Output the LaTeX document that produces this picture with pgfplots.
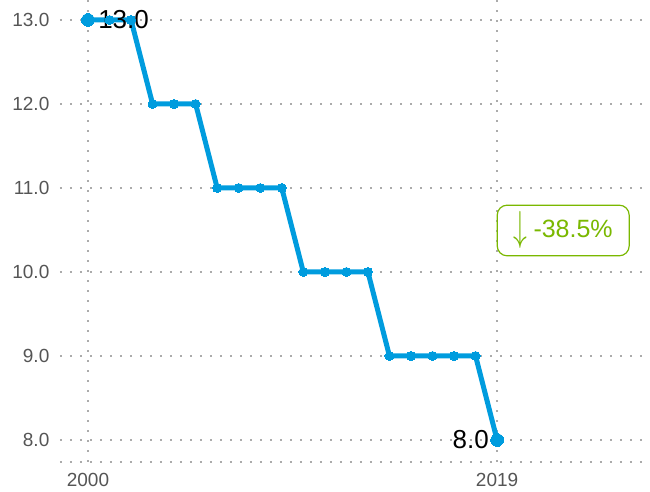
\documentclass[border=0pt]{standalone}
\usepackage{graphicx}
\usepackage{pgfplots}
\pgfplotsset{compat=1.18}
\usepackage{fontspec}
\setmainfont{Liberation Sans}
\definecolor{lineblue}{HTML}{009CDE}
\definecolor{anngreen}{HTML}{7AB800}
\definecolor{tickgray}{HTML}{555555}
\definecolor{gridgray}{HTML}{ABABAB}
\begin{document}
\begin{tikzpicture}
\useasboundingbox (-30pt,-15pt) rectangle (295pt,231pt);
\begin{axis}[
  scale only axis, width=295pt, height=231pt,
  xmin=1998.7, xmax=2026.1, ymin=7.738, ymax=13.238,
  xtick={2000,2019}, xticklabels={2000,2019},
  ytick={8,9,10,11,12,13}, yticklabels={8.0,9.0,10.0,11.0,12.0,13.0},
  major tick length=0pt,
  axis line style={draw=none},
  grid=major,
  grid style={gridgray, line width=1pt, dash pattern=on 1pt off 4pt},
  tick label style={font=\fontsize{9.5}{11}\selectfont, text=tickgray},
  yticklabel style={xshift=-1.8pt},
  xticklabel style={yshift=-2pt},
  clip=false,
]
\draw[gridgray, line width=1pt, dash pattern=on 1pt off 4pt] (rel axis cs:0,0) -- (rel axis cs:1,0);
\addplot[lineblue, line width=2.5pt, mark=*, mark size=2.25pt, mark options={fill=lineblue, draw=lineblue, line width=0pt}] coordinates {
(2000,13) (2001,13) (2002,13) (2003,12) (2004,12) (2005,12) (2006,11) (2007,11) (2008,11) (2009,11)
(2010,10) (2011,10) (2012,10) (2013,10) (2014,9) (2015,9) (2016,9) (2017,9) (2018,9) (2019,8)};
\addplot[only marks, mark=*, mark size=3.2pt, mark options={fill=lineblue, draw=lineblue, line width=0pt}] coordinates {(2000,13) (2019,8)};
\node[anchor=west, font=\fontsize{13}{15}\selectfont, xshift=1.6pt] at (axis cs:2000,13) {13.0};
\node[anchor=east, font=\fontsize{13}{15}\selectfont, xshift=-0.6pt] at (axis cs:2019,8) {8.0};
\node[draw=anngreen, line width=0.6pt, rounded corners=5pt, minimum width=66pt, minimum height=24.5pt, text=anngreen, font=\fontsize{12.5}{14}\selectfont, fill=white] at (axis cs:2022.07,10.494) {\raisebox{-1.5pt}{\scalebox{1.15}[1.75]{$\downarrow$}}\hspace{3pt}-38.5\%};
\end{axis}
\end{tikzpicture}
\end{document}
